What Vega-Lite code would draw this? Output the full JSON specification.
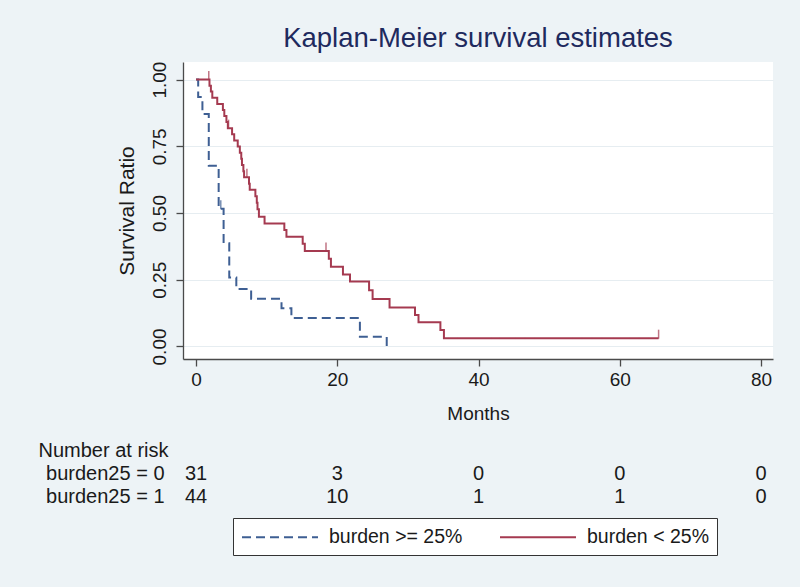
{
  "$schema": "https://vega.github.io/schema/vega-lite/v6.json",
  "background": "#edf3f6",
  "padding": {"left": 38, "top": 24, "right": 27, "bottom": 34},
  "bounds": "flush",
  "spacing": 103,
  "config": {
    "font": "Liberation Sans",
    "view": {"stroke": null},
    "axis": {
      "domainColor": "#4a4a4a",
      "domainWidth": 1.3,
      "tickColor": "#4a4a4a",
      "tickWidth": 1.3,
      "labelColor": "#1a1a1a",
      "titleColor": "#1a1a1a",
      "labelFontSize": 19,
      "titleFontSize": 19,
      "titleFontWeight": "normal"
    }
  },
  "datasets": {
    "km": [
      {"group": "burden >= 25%", "month": 0, "surv": 1.0},
      {"group": "burden >= 25%", "month": 0.3, "surv": 0.935},
      {"group": "burden >= 25%", "month": 0.9, "surv": 0.871},
      {"group": "burden >= 25%", "month": 1.8, "surv": 0.677},
      {"group": "burden >= 25%", "month": 3.2, "surv": 0.516},
      {"group": "burden >= 25%", "month": 3.9, "surv": 0.387},
      {"group": "burden >= 25%", "month": 4.7, "surv": 0.258},
      {"group": "burden >= 25%", "month": 5.7, "surv": 0.215},
      {"group": "burden >= 25%", "month": 7.8, "surv": 0.179},
      {"group": "burden >= 25%", "month": 12.1, "surv": 0.143},
      {"group": "burden >= 25%", "month": 13.5, "surv": 0.107},
      {"group": "burden >= 25%", "month": 23.2, "surv": 0.036},
      {"group": "burden >= 25%", "month": 27.0, "surv": 0.0},
      {"group": "burden < 25%", "month": 0, "surv": 1.0},
      {"group": "burden < 25%", "month": 1.9, "surv": 0.977},
      {"group": "burden < 25%", "month": 2.1, "surv": 0.955},
      {"group": "burden < 25%", "month": 2.3, "surv": 0.932},
      {"group": "burden < 25%", "month": 3.0, "surv": 0.909},
      {"group": "burden < 25%", "month": 3.8, "surv": 0.886},
      {"group": "burden < 25%", "month": 4.0, "surv": 0.864},
      {"group": "burden < 25%", "month": 4.3, "surv": 0.841},
      {"group": "burden < 25%", "month": 4.5, "surv": 0.818},
      {"group": "burden < 25%", "month": 5.1, "surv": 0.795},
      {"group": "burden < 25%", "month": 5.4, "surv": 0.772},
      {"group": "burden < 25%", "month": 5.9, "surv": 0.749},
      {"group": "burden < 25%", "month": 6.2, "surv": 0.726},
      {"group": "burden < 25%", "month": 6.4, "surv": 0.703},
      {"group": "burden < 25%", "month": 6.5, "surv": 0.68},
      {"group": "burden < 25%", "month": 6.7, "surv": 0.657},
      {"group": "burden < 25%", "month": 6.8, "surv": 0.634},
      {"group": "burden < 25%", "month": 7.5, "surv": 0.61},
      {"group": "burden < 25%", "month": 7.6, "surv": 0.587},
      {"group": "burden < 25%", "month": 8.4, "surv": 0.563},
      {"group": "burden < 25%", "month": 8.6, "surv": 0.539},
      {"group": "burden < 25%", "month": 8.7, "surv": 0.514},
      {"group": "burden < 25%", "month": 8.9, "surv": 0.486},
      {"group": "burden < 25%", "month": 9.7, "surv": 0.461},
      {"group": "burden < 25%", "month": 12.5, "surv": 0.436},
      {"group": "burden < 25%", "month": 12.8, "surv": 0.411},
      {"group": "burden < 25%", "month": 15.1, "surv": 0.385},
      {"group": "burden < 25%", "month": 15.4, "surv": 0.358},
      {"group": "burden < 25%", "month": 18.8, "surv": 0.329},
      {"group": "burden < 25%", "month": 19.1, "surv": 0.299},
      {"group": "burden < 25%", "month": 20.8, "surv": 0.27},
      {"group": "burden < 25%", "month": 21.8, "surv": 0.243},
      {"group": "burden < 25%", "month": 24.5, "surv": 0.211},
      {"group": "burden < 25%", "month": 25.0, "surv": 0.178},
      {"group": "burden < 25%", "month": 27.4, "surv": 0.146},
      {"group": "burden < 25%", "month": 31.0, "surv": 0.118},
      {"group": "burden < 25%", "month": 31.5, "surv": 0.091},
      {"group": "burden < 25%", "month": 34.6, "surv": 0.062},
      {"group": "burden < 25%", "month": 35.1, "surv": 0.031},
      {"group": "burden < 25%", "month": 65.5, "surv": 0.031}
    ],
    "censor": [
      {"group": "burden >= 25%", "month": 3.5, "surv": 0.516},
      {"group": "burden < 25%", "month": 1.8, "surv": 1.0},
      {"group": "burden < 25%", "month": 4.6, "surv": 0.818},
      {"group": "burden < 25%", "month": 7.2, "surv": 0.634},
      {"group": "burden < 25%", "month": 18.4, "surv": 0.358},
      {"group": "burden < 25%", "month": 65.5, "surv": 0.031}
    ],
    "risk": [
      {"row": "burden25 = 0", "month": 0, "n": "31"},
      {"row": "burden25 = 0", "month": 20, "n": "3"},
      {"row": "burden25 = 0", "month": 40, "n": "0"},
      {"row": "burden25 = 0", "month": 60, "n": "0"},
      {"row": "burden25 = 0", "month": 80, "n": "0"},
      {"row": "burden25 = 1", "month": 0, "n": "44"},
      {"row": "burden25 = 1", "month": 20, "n": "10"},
      {"row": "burden25 = 1", "month": 40, "n": "1"},
      {"row": "burden25 = 1", "month": 60, "n": "1"},
      {"row": "burden25 = 1", "month": 80, "n": "0"}
    ]
  },
  "vconcat": [
    {
      "width": 590,
      "height": 297,
      "title": {
        "text": "Kaplan-Meier survival estimates",
        "fontSize": 27.5,
        "fontWeight": "normal",
        "color": "#1e2a5e",
        "anchor": "middle",
        "offset": 9
      },
      "view": {"fill": "white", "stroke": null},
      "layer": [
        {
          "data": {"name": "km"},
          "mark": {"type": "line", "interpolate": "step-after", "strokeWidth": 2},
          "encoding": {
            "x": {
              "field": "month", "type": "quantitative",
              "scale": {"domain": [-1.85, 81.7], "nice": false, "zero": false},
              "axis": {
                "title": "Months",
                "values": [0, 20, 40, 60, 80],
                "grid": false,
                "tickSize": 7,
                "labelPadding": 4,
                "titlePadding": 15
              }
            },
            "y": {
              "field": "surv", "type": "quantitative",
              "scale": {"domain": [-0.047, 1.066], "nice": false, "zero": false},
              "axis": {
                "title": "Survival Ratio",
                "titleFontSize": 21,
                "values": [0, 0.25, 0.5, 0.75, 1],
                "format": ".2f",
                "labelAngle": 270,
                "labelAlign": "center",
                "labelBaseline": "alphabetic",
                "labelPadding": 11,
                "tickSize": 7,
                "titlePadding": 13,
                "grid": true,
                "gridColor": "#e6edf1",
                "gridWidth": 1
              }
            },
            "color": {
              "field": "group", "type": "nominal",
              "scale": {"domain": ["burden >= 25%", "burden < 25%"], "range": ["#3e5f93", "#a53a50"]},
              "legend": {
                "title": null,
                "orient": "none",
                "legendX": 50,
                "legendY": 456,
                "direction": "horizontal",
                "columns": 2,
                "symbolType": "M-1,0H6.6",
                "symbolSize": 400,
                "symbolStrokeWidth": 2,
                "labelFontSize": 19.5,
                "labelColor": "#1a1a1a",
                "labelOffset": 66,
                "columnPadding": 33,
                "padding": 8,
                "strokeColor": "#333333",
                "fillColor": "white"
              }
            },
            "strokeDash": {
              "field": "group", "type": "nominal",
              "scale": {"domain": ["burden >= 25%", "burden < 25%"], "range": [[9, 5], [1, 0]]},
              "legend": {
                "title": null,
                "orient": "none",
                "legendX": 50,
                "legendY": 456,
                "direction": "horizontal",
                "columns": 2,
                "symbolType": "M-1,0H6.6",
                "symbolSize": 400,
                "symbolStrokeWidth": 2,
                "labelFontSize": 19.5,
                "labelColor": "#1a1a1a",
                "labelOffset": 66,
                "columnPadding": 33,
                "padding": 8,
                "strokeColor": "#333333",
                "fillColor": "white"
              }
            }
          }
        },
        {
          "data": {"name": "censor"},
          "mark": {"type": "tick", "orient": "vertical", "size": 9, "thickness": 1.5, "yOffset": -4},
          "encoding": {
            "x": {"field": "month", "type": "quantitative"},
            "y": {"field": "surv", "type": "quantitative"},
            "color": {"field": "group", "type": "nominal", "legend": null}
          }
        }
      ]
    },
    {
      "width": 590,
      "height": 46,
      "data": {"name": "risk"},
      "mark": {"type": "text", "fontSize": 20, "color": "#1a1a1a", "align": "center", "baseline": "middle"},
      "encoding": {
        "x": {
          "field": "month", "type": "quantitative",
          "scale": {"domain": [-1.85, 81.7], "nice": false, "zero": false},
          "axis": null
        },
        "y": {
          "field": "row", "type": "nominal",
          "scale": {"type": "point", "padding": 0.5},
          "axis": {
            "title": "Number at risk",
            "titleFontSize": 20,
            "labelFontSize": 20,
            "titleAngle": 0,
            "titleAlign": "left",
            "titleBaseline": "middle",
            "titleX": -145,
            "titleY": -12,
            "domain": false,
            "ticks": false,
            "tickSize": 0,
            "labelPadding": 19,
            "labelAlign": "right"
          }
        },
        "text": {"field": "n", "type": "nominal"}
      }
    }
  ]
}
